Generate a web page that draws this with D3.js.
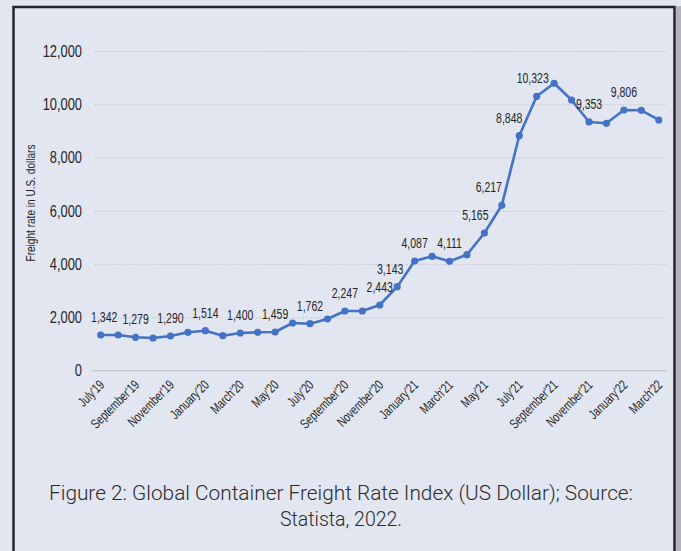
<!DOCTYPE html>
<html>
<head>
<meta charset="utf-8">
<script src="https://cdn.jsdelivr.net/npm/d3@7/dist/d3.min.js"></script>
<style>
  html, body { margin: 0; padding: 0; background: #e2e6f1; }
  svg { display: block; }
</style>
</head>
<body>
<svg id="chart" width="681" height="551"></svg>
<script>
// ---- data ----
const months = ["Jul'19","Aug'19","Sep'19","Oct'19","Nov'19","Dec'19",
  "Jan'20","Feb'20","Mar'20","Apr'20","May'20","Jun'20","Jul'20","Aug'20","Sep'20","Oct'20","Nov'20","Dec'20",
  "Jan'21","Feb'21","Mar'21","Apr'21","May'21","Jun'21","Jul'21","Aug'21","Sep'21","Oct'21","Nov'21","Dec'21",
  "Jan'22","Feb'22","Mar'22"];
const rates = [1340,1340,1254,1227,1302,1441,
  1501,1314,1415,1441,1453,1790,1764,1941,2241,2241,2466,3153,
  4118,4294,4107,4354,5169,6209,8821,10300,10788,10161,9336,9287,
  9786,9775,9411];
const tickLabels = ["July'19","September'19","November'19","January'20","March'20","May'20",
  "July'20","September'20","November'20","January'21","March'21","May'21",
  "July'21","September'21","November'21","January'22","March'22"];
const labelMonths = ["Jul'19","Sep'19","Nov'19","Jan'20","Mar'20","May'20","Jul'20","Sep'20","Nov'20",
  "Dec'20","Jan'21","Mar'21","May'21","Jun'21","Jul'21","Aug'21","Nov'21","Jan'22"];
const labelTexts = ["1,342","1,279","1,290","1,514","1,400","1,459","1,762","2,247","2,443",
  "3,143","4,087","4,111","5,165","6,217","8,848","10,323","9,353","9,806"];
const yTicks = [0,2000,4000,6000,8000,10000,12000];
const yTitle = "Freight rate in U.S. dollars";
const caption = ["Figure 2: Global Container Freight Rate Index (US Dollar); Source:", "Statista, 2022."];

// ---- drawing ----
const svg = d3.select("#chart");
const sans = "'Liberation Sans',Arial,sans-serif";
function condense(sel, f) {
  sel.each(function () {
    const L = this.getComputedTextLength();
    d3.select(this).attr("textLength", L * f).attr("lengthAdjust", "spacingAndGlyphs");
  });
}

// right shadow strip and frame
svg.append("rect").attr("x", 676).attr("y", 6).attr("width", 5).attr("height", 545).attr("fill", "#b3b4bd");
svg.append("rect").attr("x", 13.5).attr("y", 7).attr("width", 661).attr("height", 550)
  .attr("fill", "#e2e6f1").attr("stroke", "#262626").attr("stroke-width", 2.5);

const x = d3.scalePoint().domain(months).range([92, 667.5]).padding(0.5);
const y = d3.scaleLinear().domain([0, 12000]).range([370.7, 51]);

// gridlines
const grid = svg.append("g")
  .attr("transform", "translate(95,0)")
  .call(d3.axisLeft(y).tickValues(yTicks.filter(v => v > 0)).tickSize(-572).tickFormat(""));
grid.select(".domain").remove();
grid.selectAll("line").attr("stroke", "#b9bcc4").attr("stroke-width", 1).attr("stroke-dasharray", "1,1.6");

// zero axis line
svg.append("line").attr("x1", 92).attr("x2", 667).attr("y1", y(0)).attr("y2", y(0))
  .attr("stroke", "#c6c8ce").attr("stroke-width", 1.3);

// y tick labels
const yAxis = svg.append("g").attr("transform", "translate(82,0)")
  .call(d3.axisLeft(y).tickValues(yTicks).tickSize(0).tickPadding(0).tickFormat(d3.format(",")));
yAxis.select(".domain").remove();
yAxis.selectAll("text").attr("font-family", sans).attr("font-size", 16.5).attr("fill", "#262626")
  .call(condense, 0.78);

// y title
svg.append("text").attr("transform", "translate(35,203) rotate(-90)")
  .attr("text-anchor", "middle").attr("font-family", sans).attr("font-size", 13.5)
  .attr("fill", "#262626").text(yTitle)
  .attr("textLength", 117).attr("lengthAdjust", "spacingAndGlyphs");

// x tick labels
const tickMonths = months.filter((m, i) => i % 2 === 0);
const xAxis = svg.append("g").attr("transform", `translate(0,${y(0)})`)
  .call(d3.axisBottom(x).tickValues(tickMonths).tickSize(0).tickFormat((d, i) => tickLabels[i]));
xAxis.select(".domain").remove();
xAxis.selectAll("text")
  .attr("font-family", sans).attr("font-size", 13.5).attr("fill", "#262626")
  .attr("text-anchor", "end").attr("dy", 0).attr("y", 0)
  .attr("transform", "translate(4,15) rotate(-45)")
  .call(condense, 0.74);

// line
const pts = months.map((m, i) => [m, rates[i]]);
svg.append("path").datum(pts)
  .attr("fill", "none").attr("stroke", "#4472c4").attr("stroke-width", 2.6)
  .attr("stroke-linejoin", "round")
  .attr("d", d3.line().x(d => x(d[0])).y(d => y(d[1])));
svg.append("g").selectAll("circle").data(pts).join("circle")
  .attr("cx", d => x(d[0])).attr("cy", d => y(d[1])).attr("r", 3.6).attr("fill", "#4472c4");

// data labels (shifted on the steep rise / near the axis)
const shiftLeft = {"Jul'19": -3.5, "Dec'20": 7, "May'21": 9, "Jun'21": 13, "Jul'21": 10, "Aug'21": 4};
svg.append("g").selectAll("text").data(labelMonths).join("text")
  .attr("x", (m) => x(m) - (shiftLeft[m] || 0))
  .attr("y", (m) => y(rates[months.indexOf(m)]) - 13)
  .attr("text-anchor", "middle").attr("font-family", sans).attr("font-size", 14)
  .attr("fill", "#262626")
  .text((m, i) => labelTexts[i])
  .call(condense, 0.75);

// caption
const capWidths = [584, 122];
svg.append("g").selectAll("text").data(caption).join("text")
  .attr("x", 341).attr("y", (d, i) => 500 + i * 26)
  .attr("text-anchor", "middle").attr("font-family", "Roboto, 'Open Sans', sans-serif")
  .attr("font-weight", 300).attr("font-size", 19.5).attr("fill", "#2b2b2b")
  .text(d => d)
  .attr("textLength", (d, i) => capWidths[i]).attr("lengthAdjust", "spacingAndGlyphs");
</script>
</body>
</html>
